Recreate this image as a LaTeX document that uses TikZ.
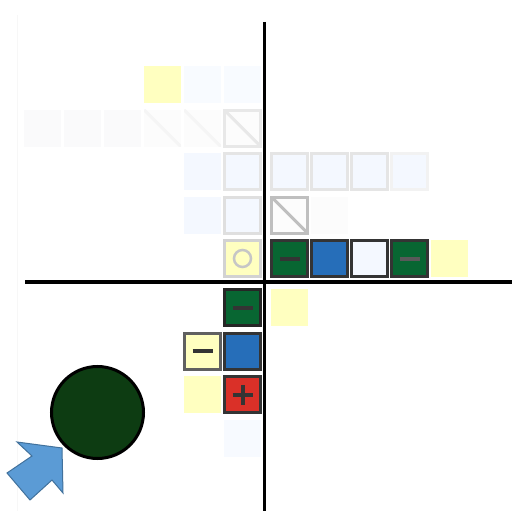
\documentclass[tikz,border=0pt]{standalone}
\usepackage{tikz}
\usetikzlibrary{positioning}

\definecolor{tilegreen}{RGB}{8,102,50}
\definecolor{tileblue}{RGB}{38,110,185}
\definecolor{tilered}{RGB}{218,48,40}
\definecolor{paleyellow}{RGB}{255,255,192}
\definecolor{paleblue}{RGB}{244,248,255}
\definecolor{ghostblue}{RGB}{240,245,255}
\definecolor{darkline}{RGB}{52,52,52}
\definecolor{disc}{RGB}{13,60,18}
\definecolor{arrowblue}{RGB}{91,155,213}
\definecolor{arrowline}{RGB}{65,113,156}

\tikzset{
  tile/.style={draw=darkline, line width=3pt, minimum size=36pt, inner sep=0pt},
  ghost/.style={minimum size=37pt, inner sep=0pt},
  signminus/.style={path picture={
      \draw[line width=4pt, #1] ([xshift=-10pt]path picture bounding box.center)
        -- ([xshift=10pt]path picture bounding box.center);}},
  signminus/.default={darkline},
  signplus/.style={path picture={
      \draw[line width=4pt, darkline]
        ([xshift=-10pt]path picture bounding box.center) -- ([xshift=10pt]path picture bounding box.center)
        ([yshift=-10pt]path picture bounding box.center) -- ([yshift=10pt]path picture bounding box.center);}},
  slash/.style={path picture={
      \draw[line width=3pt, #1] (path picture bounding box.north west)
        -- (path picture bounding box.south east);}},
}

\begin{document}
\begin{tikzpicture}[x=1pt,y=-1pt]
  \useasboundingbox (0,0) rectangle (512,511);

  % faint page edge
  \draw[gray!6, line width=1pt] (17,15) -- (17,511);

  % row 4
  \node[ghost, fill=paleyellow] (r4a) at (162.5,85) {};
  \node[ghost, fill=paleblue!60] (r4b) at (202.5,85) {};
  \node[ghost, fill=paleblue!60] (r4c) at (242.5,85) {};

  % row 3
  \foreach \x/\n in {42.5/a,82.5/b,122.5/c} {
    \node[ghost, fill=ghostblue!30!gray!5] (r3\n) at (\x,128.3) {};
  }
  \node[ghost, fill=gray!2, slash=gray!8] (r3d) at (162.5,128.3) {};
  \node[ghost, fill=gray!2, slash=gray!8] (r3e) at (202.5,128.3) {};
  \node[tile, draw=gray!18, fill=gray!2, slash=gray!18] (r3f) at (242.5,128.3) {};

  % row 2
  \node[ghost, fill=ghostblue!70] (r2a) at (202.5,171.7) {};
  \node[tile, draw=gray!20, fill=paleblue] (r2b) at (242.5,171.7) {};
  \foreach \x/\n in {289.5/c,329.5/d,369.5/e} {
    \node[tile, draw=gray!20, fill=paleblue] (r2\n) at (\x,171.7) {};
  }
  \node[tile, draw=gray!10, fill=paleblue] (r2f) at (409.5,171.7) {};

  % row 1
  \node[ghost, fill=ghostblue!70] (r1a) at (202.5,215.1) {};
  \node[tile, draw=gray!25, fill=paleblue] (r1b) at (242.5,215.1) {};
  \node[tile, draw=gray!50, fill=gray!2, slash=gray!50] (r1c) at (289.5,215.1) {};
  \node[ghost, fill=gray!2] (r1d) at (329.5,215.1) {};

  % row 0
  \node[tile, draw=gray!35, fill=paleyellow] (r0a) at (242.5,258.5) {};
  \draw[gray!45, line width=2.5pt] (r0a.center) circle (8.5pt);
  \node[tile, fill=tilegreen, signminus] (r0b) at (289.5,258.5) {};
  \node[tile, fill=tileblue] (r0c) at (329.5,258.5) {};
  \node[tile, fill=paleblue] (r0d) at (369.5,258.5) {};
  \node[tile, fill=tilegreen, signminus=gray!70!black] (r0e) at (409.5,258.5) {};
  \node[ghost, fill=paleyellow] (r0f) at (449.5,258.5) {};

  % row -1
  \node[tile, draw=black!85, fill=tilegreen, signminus] (s1a) at (242.5,307.5) {};
  \node[ghost, fill=paleyellow] (s1b) at (289.5,307.5) {};

  % row -2
  \node[tile, draw=gray!75!black, fill=paleyellow, signminus] (s2a) at (202.5,351.2) {};
  \node[tile, fill=tileblue] (s2b) at (242.5,351.2) {};

  % row -3
  \node[ghost, fill=paleyellow] (s3a) at (202.5,394.9) {};
  \node[tile, fill=tilered, signplus] (s3b) at (242.5,394.9) {};

  % row -4
  \node[ghost, fill=paleblue!70] (s4a) at (242.5,438.6) {};

  % axes
  \coordinate (ytop) at (264.3,22);
  \coordinate (ybot) at (264.3,511);
  \coordinate (xleft) at (25,282);
  \coordinate (xright) at (512,282);
  \draw[line width=3.5pt] (ytop) -- (ybot);
  \draw[line width=3.5pt] (xleft) -- (xright);

  % disc and pointer
  \node[circle, draw=black, line width=3pt, fill=disc, minimum size=92pt, inner sep=0pt] (disc) at (97.5,412.5) {};
  \draw[arrowline, fill=arrowblue, line width=1pt, line join=miter]
    (62,448) -- (17,442) -- (32,456) -- (7,473) -- (30,500) -- (52,480) -- (63,493) -- cycle;
\end{tikzpicture}
\end{document}
